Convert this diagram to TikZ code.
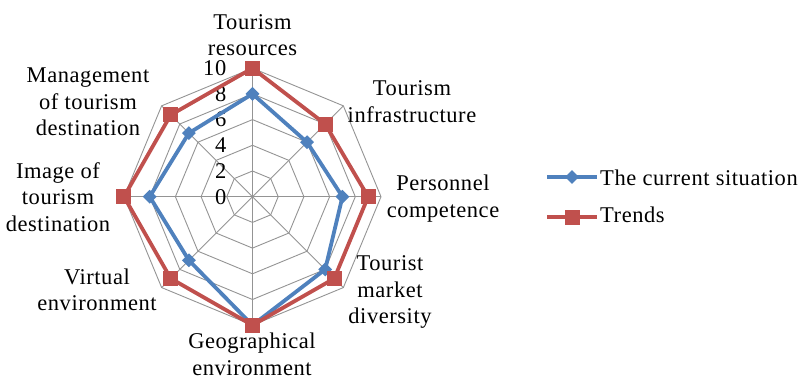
\documentclass[tikz,border=0pt]{standalone}
\usepackage{fontspec}
\setmainfont{Liberation Serif}[LetterSpace=2.5]
\usepackage{tikz}
\usetikzlibrary{calc}
\usetikzlibrary{shapes.geometric}
\definecolor{curblue}{RGB}{79,129,189}
\definecolor{trdred}{RGB}{192,80,77}
\tikzset{
  grid/.style={draw=black!42,line width=0.9bp},
  current/.style={curblue,line width=3.8bp,line join=round},
  trends/.style={trdred,line width=3.8bp,line join=round},
  curmark/.style={diamond,fill=curblue,inner sep=0pt,minimum size=14bp},
  trdmark/.style={rectangle,fill=trdred,inner sep=0pt,minimum size=15bp},
  axislabel/.style={align=center,inner sep=0pt,font=\fontsize{22.5bp}{26.5bp}\selectfont},
  ticklabel/.style={anchor=east,inner sep=0pt,font=\fontsize{22.5bp}{26.5bp}\selectfont}
}
\begin{document}
\begin{tikzpicture}[x=1bp,y=1bp]
\useasboundingbox (-252.5,-182.3) rectangle (547.5,196.7);
\foreach \r in {2,4,6,8,10}
  \draw[grid] (90:\r*12.85) -- (45:\r*12.85) -- (0:\r*12.85) -- (-45:\r*12.85) -- (-90:\r*12.85) -- (-135:\r*12.85) -- (180:\r*12.85) -- (135:\r*12.85) -- cycle;
\foreach \a in {90,45,0,-45,-90,-135,180,135}
  \draw[grid] (0,0) -- (\a:128.5);
\foreach \r in {0,2,4,6,8,10}
  \node[ticklabel] (t\r) at (-26,\r*12.85) {\r};
\draw[current] (90:8*12.85) -- (45:6*12.85) -- (0:7*12.85) -- (-45:8*12.85) -- (-90:10*12.85) -- (-135:7*12.85) -- (180:8*12.85) -- (135:7*12.85) -- cycle;
\foreach \a/\v in {90/8,45/6,0/7,-45/8,-90/10,-135/7,180/8,135/7}
  \node[curmark] at (\a:\v*12.85) {};
\draw[trends] (90:10*12.85) -- (45:8*12.85) -- (0:9*12.85) -- (-45:9*12.85) -- (-90:10*12.85) -- (-135:9*12.85) -- (180:10*12.85) -- (135:9*12.85) -- cycle;
\foreach \a/\v in {90/10,45/8,0/9,-45/9,-90/10,-135/9,180/10,135/9}
  \node[trdmark] at (\a:\v*12.85) {};
\node[axislabel] (res) at (0,161.7) {Tourism\\resources};
\node[axislabel] (inf) at (159.5,95.2) {Tourism\\infrastructure};
\node[axislabel] (per) at (190.5,-1.8) {Personnel\\competence};
\node[axislabel] (mkt) at (137.5,-95.3) {Tourist\\market\\diversity};
\node[axislabel] (geo) at (-0.5,-157.5) {Geographical\\environment};
\node[axislabel] (vir) at (-155.5,-93.3) {Virtual\\environment};
\node[axislabel] (img) at (-194.5,-0.3) {Image of\\tourism\\destination};
\node[axislabel] (man) at (-164.5,94.7) {Management\\of tourism\\destination};
\coordinate (la) at (294.5,19.7);
\coordinate (lb) at (344.5,19.7);
\coordinate (lc) at (294.5,-20.3);
\coordinate (ld) at (344.5,-20.3);
\draw[current] (la) -- (lb);
\node[curmark] at ($(la)!0.5!(lb)$) {};
\draw[trends] (lc) -- (ld);
\node[trdmark] at ($(lc)!0.5!(ld)$) {};
\node[axislabel,anchor=base west] (lcur) at (347.5,11.7) {The current situation};
\node[axislabel,anchor=base west] (ltrd) at (347.5,-26) {Trends};
\end{tikzpicture}
\end{document}
